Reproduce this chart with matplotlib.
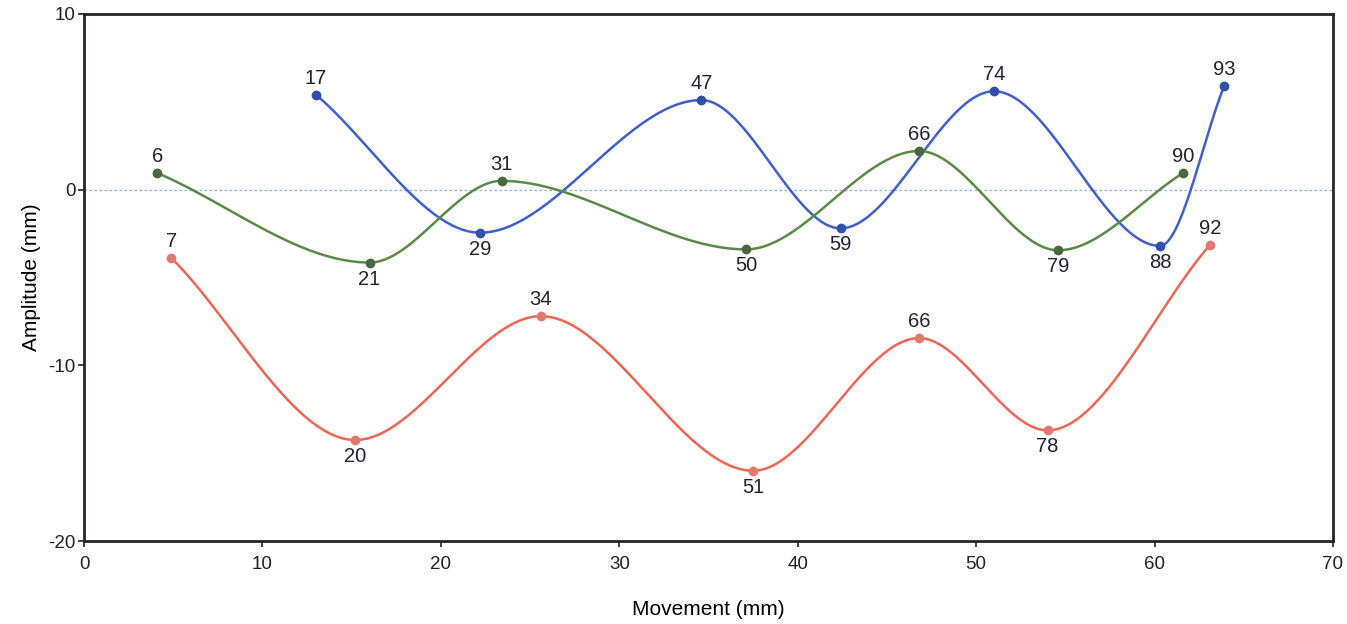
import numpy as np
import matplotlib
matplotlib.use("Agg")
import matplotlib.pyplot as plt

plt.rcParams['axes.unicode_minus'] = False
plt.rcParams['font.family'] = ['Liberation Sans', 'DejaVu Sans']

# frame numbers, x positions (mm), amplitudes (mm)
blue_frames = [17, 29, 47, 59, 74, 88, 93]
blue_x = [13.0, 22.2, 34.6, 42.4, 51.0, 60.3, 63.9]
blue_y = [5.4, -2.45, 5.1, -2.2, 5.6, -3.2, 5.9]

green_frames = [6, 21, 31, 50, 66, 79, 90]
green_x = [4.1, 16.0, 23.4, 37.1, 46.8, 54.6, 61.6]
green_y = [0.95, -4.15, 0.5, -3.4, 2.2, -3.45, 0.95]

red_frames = [7, 20, 34, 51, 66, 78, 92]
red_x = [4.9, 15.2, 25.6, 37.5, 46.8, 54.0, 63.1]
red_y = [-3.9, -14.25, -7.2, -16.0, -8.45, -13.7, -3.15]

# label above (1) or below (-1) the point
blue_pos = [1, -1, 1, -1, 1, -1, 1]
green_pos = [1, -1, 1, -1, 1, -1, 1]
red_pos = [1, -1, 1, -1, 1, -1, 1]


def smooth(x, y, n=60):
    # monotone cubic (pchip) through the points
    x = np.asarray(x, float)
    y = np.asarray(y, float)
    h = np.diff(x)
    d = np.diff(y)/h
    m = np.zeros(len(x))
    for i in range(1, len(x)-1):
        if d[i-1]*d[i] > 0:
            w1 = 2*h[i] + h[i-1]
            w2 = h[i] + 2*h[i-1]
            m[i] = (w1 + w2)/(w1/d[i-1] + w2/d[i])
    m[0] = d[0]
    m[-1] = d[-1]
    xs, ys = [], []
    t = np.linspace(0, 1, n)
    for i in range(len(x)-1):
        h00 = 2*t**3 - 3*t**2 + 1
        h10 = t**3 - 2*t**2 + t
        h01 = -2*t**3 + 3*t**2
        h11 = t**3 - t**2
        xs.append(x[i] + t*h[i])
        ys.append(h00*y[i] + h10*h[i]*m[i] + h01*y[i+1] + h11*h[i]*m[i+1])
    return np.concatenate(xs), np.concatenate(ys)


fig = plt.figure(figsize=(13.47, 6.24), dpi=100)
ax = fig.add_axes([0.0624, 0.133, 0.9272, 0.8446])

ax.axhline(0, color='#8fb0e0', lw=0.9, ls=(0, (2, 2)), zorder=1)

series = [
    (blue_x, blue_y, blue_frames, blue_pos, '#3f5fcf', '#2f4fa8'),
    (green_x, green_y, green_frames, green_pos, '#5a8a48', '#4a6840'),
    (red_x, red_y, red_frames, red_pos, '#f26452', '#e07a6e'),
]
for xs, ys, fr, pos, lc, mc in series:
    sx, sy = smooth(xs, ys)
    ax.plot(sx, sy, color=lc, lw=1.8, zorder=2)
    ax.plot(xs, ys, 'o', color=mc, ms=6, zorder=3)
    for x, y, f, p in zip(xs, ys, fr, pos):
        ax.annotate(str(f), (x, y), xytext=(0, 5*p), textcoords='offset points',
                    ha='center', va='bottom' if p > 0 else 'top',
                    fontsize=14.5, color='#222233')

ax.set_xlim(0, 70)
ax.set_ylim(-20, 10)
ax.set_xticks(range(0, 71, 10))
ax.set_yticks([-20, -10, 0, 10])
ax.tick_params(direction='out', length=4, width=1.2, labelsize=13.5, colors='#222222')
ax.tick_params(axis='x', pad=7)
ax.tick_params(axis='y', pad=2)
for s in ax.spines.values():
    s.set_linewidth(2)
    s.set_color('#2a2228')
ax.set_xlabel('Movement (mm)', fontsize=15, labelpad=19)
ax.set_ylabel('Amplitude (mm)', fontsize=15, labelpad=5)

fig.savefig('out.png', dpi=100)
